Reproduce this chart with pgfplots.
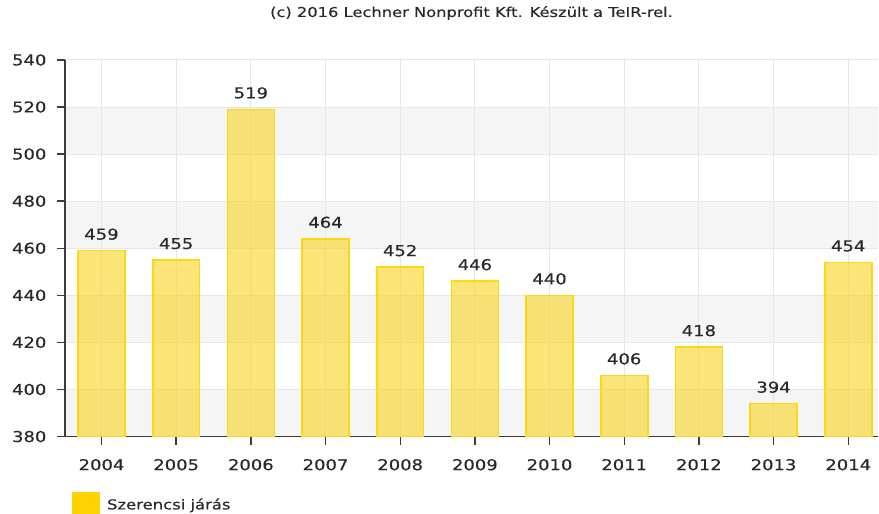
\documentclass[border=0pt]{standalone}
\usepackage{fontspec}
\setmainfont{DejaVu Sans}[FakeStretch=1.2, FakeBold=0.3]
\usepackage{pgfplots}
\pgfplotsset{compat=1.18}
\definecolor{txt}{RGB}{40,40,40}
\definecolor{band}{RGB}{245,245,245}
\definecolor{gridc}{RGB}{230,230,230}
\definecolor{barfill}{RGB}{250,212,30}
\definecolor{barline}{RGB}{252,216,20}
\definecolor{legc}{RGB}{255,209,0}
\definecolor{axc}{RGB}{60,60,60}
\begin{document}
\begin{tikzpicture}
\path (0,0) rectangle (879pt,514pt);
\begin{axis}[
  set layers,
  at={(65pt,77pt)}, anchor=south west,
  scale only axis, width=814pt, height=377pt,
  xmin=-0.49, xmax=10.4, ymin=380, ymax=540,
  ytick={380,400,...,540},
  xtick={0,...,10},
  xticklabels={2004,2005,2006,2007,2008,2009,2010,2011,2012,2013,2014},
  axis x line*=bottom, axis y line*=left,
  axis line style={axc, line width=1.8pt},
  tick align=outside, major tick length=8pt,
  tick style={axc, line width=1.4pt},
  grid=major,
  major grid style={gridc, line width=1pt},
  ticklabel style={font=\fontsize{15}{17}\selectfont, text=txt},
  yticklabel style={xshift=-7pt},
  xticklabel style={yshift=-11pt},
  /pgf/number format/assume math mode=true,
  title={(c) 2016 Lechner Nonprofit Kft. Készült a TeIR-rel.},
  title style={at={(0.5,1)}, anchor=base, yshift=37pt, font=\fontsize{13.6}{15}\selectfont, text=txt},
  legend style={at={(0,0)}, anchor=north west, xshift=7pt, yshift=-55pt, draw=none, fill=none, inner sep=0pt, font=\fontsize{13.7}{16}\selectfont, text=txt},
  legend image code/.code={\fill[legc, fill opacity=1, draw=none] (0pt,-9pt) rectangle (28pt,13pt); \path[draw=none] (0pt,0pt) -- (33pt,0pt);},
]
\begin{pgfonlayer}{axis background}
\fill[band] (axis cs:-0.49,500) rectangle (axis cs:10.4,520);
\fill[band] (axis cs:-0.49,460) rectangle (axis cs:10.4,480);
\fill[band] (axis cs:-0.49,420) rectangle (axis cs:10.4,440);
\fill[band] (axis cs:-0.49,380) rectangle (axis cs:10.4,400);
\end{pgfonlayer}
\addplot[ybar, bar width=47pt, fill=barfill, fill opacity=0.6, draw=barline, line width=1.6pt,
  nodes near coords,
  every node near coord/.append style={font=\fontsize{15}{17}\selectfont, text=txt, inner sep=0pt, yshift=10pt, fill opacity=1, text opacity=1}] coordinates {
(0,459) (1,455) (2,519) (3,464) (4,452) (5,446) (6,440) (7,406) (8,418) (9,394) (10,454)};
\addlegendentry{Szerencsi járás}
\end{axis}
\end{tikzpicture}
\end{document}
